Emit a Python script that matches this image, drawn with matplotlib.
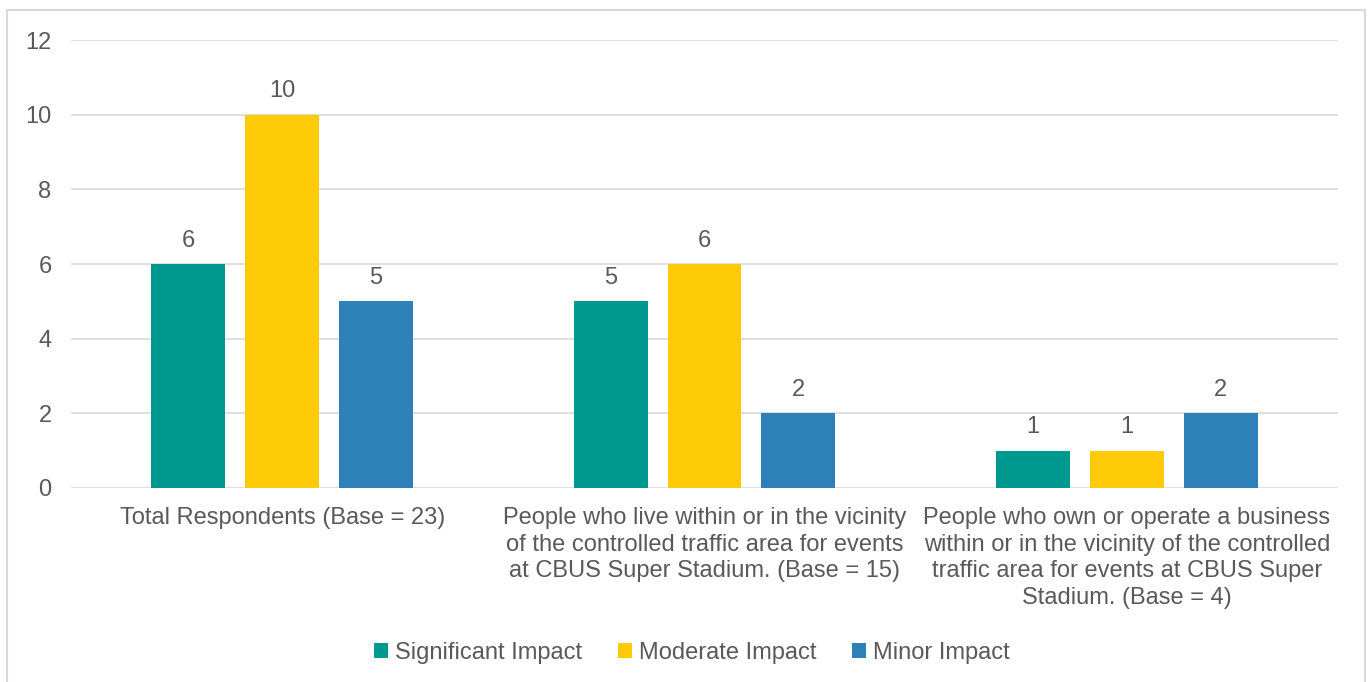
import numpy as np
import matplotlib
matplotlib.use('Agg')
import matplotlib.pyplot as plt
from matplotlib.patches import Rectangle

plt.rcParams['font.family'] = ['Liberation Sans', 'DejaVu Sans']

categories = ['Total Respondents (Base = 23)',
              'People who live within or in the vicinity\nof the controlled traffic area for events\nat CBUS Super Stadium. (Base = 15)',
              'People who own or operate a business\nwithin or in the vicinity of the controlled\ntraffic area for events at CBUS Super\nStadium. (Base = 4)']
series_names = ['Significant Impact', 'Moderate Impact', 'Minor Impact']
significant = [6, 5, 1]
moderate = [10, 6, 1]
minor = [5, 2, 2]
colors = ['#009990', '#FFCA08', '#2E80B8']
txt = '#595959'
fs = 17

fig = plt.figure(figsize=(13.7, 6.82), dpi=100)
fig.patches.append(Rectangle((7/1370, -0.01), 1358/1370, 1 - 10/682 + 0.01,
                             transform=fig.transFigure, fill=False,
                             edgecolor='#d9d9d9', linewidth=1.5))
ax = fig.add_axes([71/1370, 1 - 488/682, 1267/1370, 448/682])

x = np.arange(len(categories))
w = 0.175
off = 0.222
for i, (vals, name) in enumerate(zip([significant, moderate, minor], series_names)):
    bars = ax.bar(x + (i - 1) * off, vals, width=w, color=colors[i], label=name, zorder=3)
    for b, v in zip(bars, vals):
        ax.text(b.get_x() + b.get_width() / 2, v + 0.33, str(v), ha='center', va='bottom',
                fontsize=fs, color=txt)

ax.set_xlim(-0.5, 2.5)
ax.set_ylim(0, 12)
ax.set_yticks(range(0, 13, 2))
ax.set_xticks(x)
ax.set_xticklabels(categories, linespacing=1.26)
ax.tick_params(axis='both', length=0, labelsize=fs, labelcolor=txt)
ax.tick_params(axis='y', pad=14)
ax.tick_params(axis='x', pad=14)
ax.grid(axis='y', color='#d9d9d9', linewidth=1.2, zorder=0)
for s in ax.spines.values():
    s.set_visible(False)

fig.legend(loc='center', bbox_to_anchor=(0.505, 1 - 653/682), ncol=3, frameon=False,
           fontsize=fs, labelcolor=txt, handlelength=0.6, handleheight=0.6,
           handletextpad=0.3, columnspacing=1.5)

fig.savefig('out.png', dpi=100, facecolor='white')
